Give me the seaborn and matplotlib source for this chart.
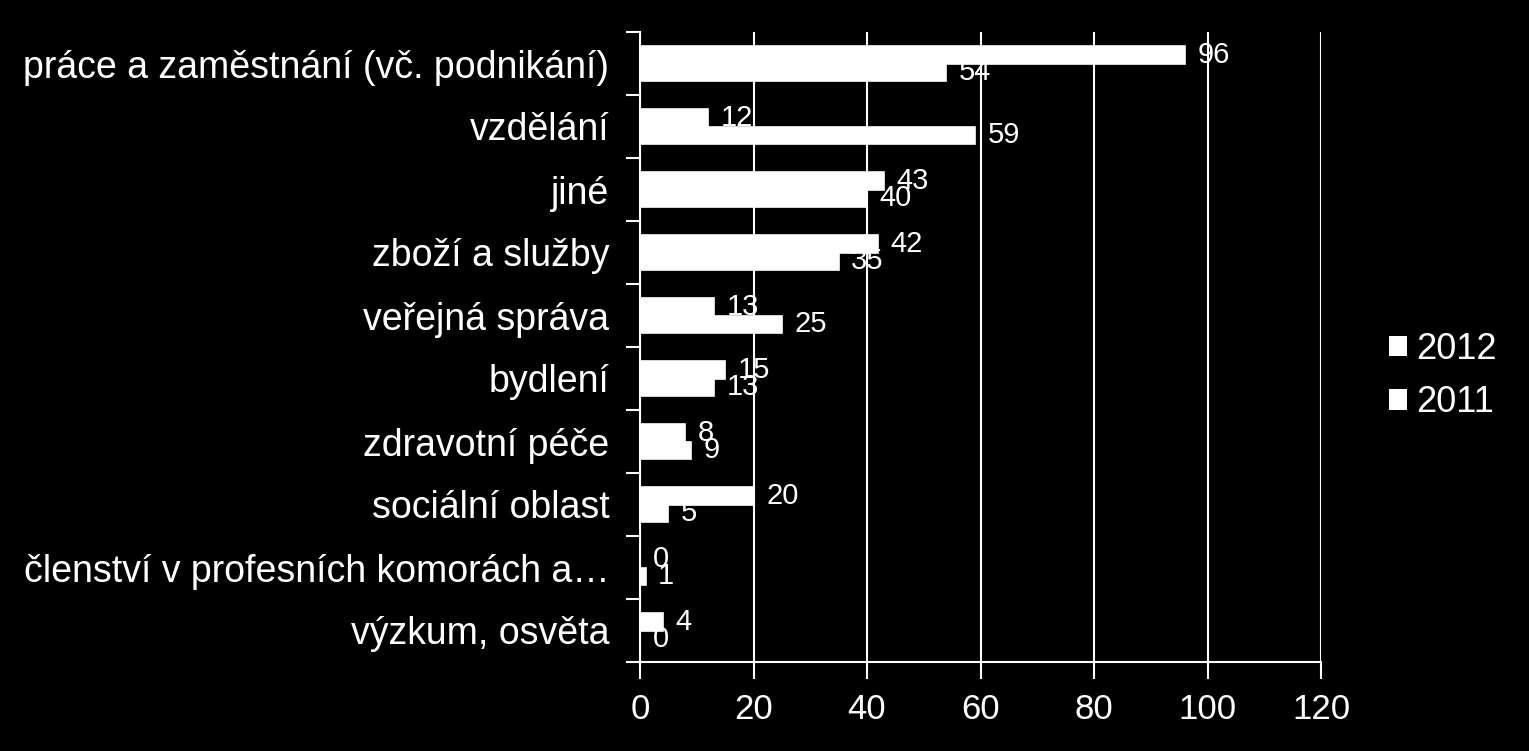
import matplotlib
matplotlib.use("Agg")
import matplotlib.pyplot as plt
import matplotlib.patches as mpatches
import numpy as np
import pandas as pd
import seaborn as sns

categories = [
    "práce a zaměstnání (vč. podnikání)",
    "vzdělání",
    "jiné",
    "zboží a služby",
    "veřejná správa",
    "bydlení",
    "zdravotní péče",
    "sociální oblast",
    "členství v profesních komorách a…",
    "výzkum, osvěta",
]
values_2012 = [96, 12, 43, 42, 13, 15, 8, 20, 0, 4]
values_2011 = [54, 59, 40, 35, 25, 13, 9, 5, 1, 0]
years = ["2012", "2011"]
x_ticks = [0, 20, 40, 60, 80, 100, 120]

df = pd.DataFrame({
    "category": categories * 2,
    "value": values_2012 + values_2011,
    "year": [years[0]] * len(categories) + [years[1]] * len(categories),
})

sns.set_theme(style="dark")
plt.rcParams["font.family"] = ["Liberation Sans", "DejaVu Sans"]

fig = plt.figure(figsize=(15.29, 7.51), dpi=100, facecolor="black")
ax = fig.add_axes([640 / 1529, 1 - 662 / 751, (1321 - 640) / 1529, (662 - 32) / 751])
ax.set_facecolor("black")

sns.barplot(data=df, y="category", x="value", hue="year", hue_order=years,
            order=categories, orient="h", palette=["white", "white"],
            width=0.56, saturation=1, legend=False, ax=ax,
            edgecolor="white", linewidth=1.2)

for cont in ax.containers:
    ax.bar_label(cont, padding=9, fontsize=21, color="white")

ax.set_xlim(0, 120)
ax.set_xticks(x_ticks)
ax.set_xticklabels([str(t) for t in x_ticks])
ax.set_xlabel("")
ax.set_ylabel("")
ax.set_ylim(len(categories) - 0.5, -0.5)

ax.grid(axis="x", color="white", linewidth=1.5)
ax.grid(axis="y", visible=False)
ax.set_axisbelow(True)

for s in ["top", "right"]:
    ax.spines[s].set_visible(False)
for s in ["left", "bottom"]:
    ax.spines[s].set_visible(True)
    ax.spines[s].set_color("white")
    ax.spines[s].set_linewidth(1.5)

ax.set_yticks(np.arange(-0.5, len(categories), 1), minor=True)
ax.tick_params(axis="y", which="major", length=0, pad=22, labelsize=27, labelcolor="white")
ax.tick_params(axis="y", which="minor", length=10, width=1.5, color="white", left=True)
ax.tick_params(axis="x", which="major", length=12, width=1.5, color="white", bottom=True,
               pad=10, labelsize=25, labelcolor="white")

handles = [mpatches.Patch(facecolor="white", edgecolor="none", label=y) for y in years]
leg = fig.legend(handles=handles, loc="center left", bbox_to_anchor=(1389 / 1529, 1 - 376 / 751),
                 frameon=False, fontsize=26, handlelength=0.5, handleheight=0.5,
                 handletextpad=0.25, labelspacing=0.5, borderpad=0, borderaxespad=0)
for t in leg.get_texts():
    t.set_color("white")

fig.savefig("out.png", dpi=100, facecolor="black")
